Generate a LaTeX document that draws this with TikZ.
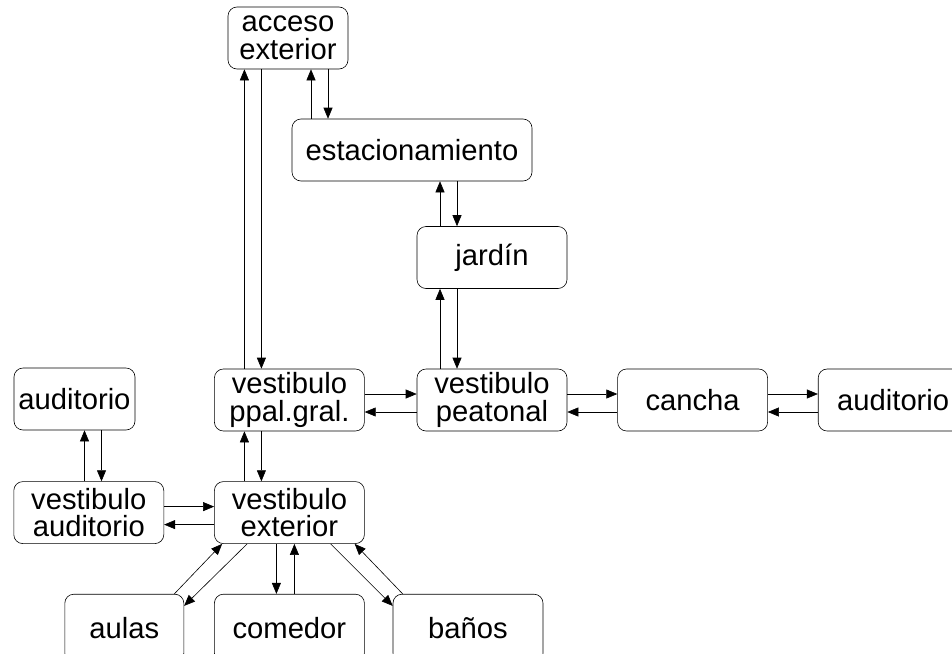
\documentclass[tikz,border=0pt]{standalone}
\usepackage{fontspec}
\setmainfont{Liberation Sans}
\usetikzlibrary{arrows.meta,positioning}

\begin{document}
\begin{tikzpicture}[x=1pt, y=-1pt,
  box/.style={draw, rounded corners=9pt, align=center, minimum width=150pt, minimum height=62pt, inner xsep=4pt, inner ysep=2pt, line width=0.6pt, font=\fontsize{29.2pt}{27.7pt}\selectfont},
  arr/.style={-{Triangle[length=11pt,width=9pt]}, line width=0.6pt}
]
\useasboundingbox (0,0) rectangle (952,653);

\node[box, minimum width=120pt] (acceso) at (288,38) {acceso\\exterior};
\node[box, minimum width=240pt] (estac) at (412,150) {estacionamiento};
\node[box] (jardin) at (492,257.5) {jardín};
\node[box] (peatonal) at (492,400) {vestibulo\\peatonal};
\node[box, left=52pt of peatonal] (ppal) {vestibulo\\ppal.gral.};
\node[box, right=50pt of peatonal] (cancha) {cancha};
\node[box, right=50pt of cancha] (audder) {auditorio};
\node[box, minimum width=121pt] (audizq) at (74.5,399) {auditorio};
\node[box, below=50pt of ppal] (exterior) {vestibulo\\exterior};
\node[box, left=50pt of exterior] (vestaud) {vestibulo\\auditorio};
\node[box, minimum height=68pt, below=50pt of exterior] (comedor) {comedor};
\node[box, minimum height=68pt, minimum width=119pt, left=30pt of comedor] (aulas) {aulas};
\node[box, minimum height=68pt, right=28pt of comedor] (banos) {baños};

\draw[arr] ([xshift=-45pt]ppal.north) -- ([xshift=-45pt]ppal.north |- acceso.south);
\draw[arr] ([xshift=-28pt]ppal.north |- acceso.south) -- ([xshift=-28pt]ppal.north);
\draw[arr] ([xshift=-101pt]estac.north) -- ([xshift=-101pt]estac.north |- acceso.south);
\draw[arr] ([xshift=-84pt]estac.north |- acceso.south) -- ([xshift=-84pt]estac.north);
\draw[arr] ([xshift=-52pt]jardin.north) -- ([xshift=-52pt]jardin.north |- estac.south);
\draw[arr] ([xshift=-35pt]jardin.north |- estac.south) -- ([xshift=-35pt]jardin.north);
\draw[arr] ([xshift=-52pt]peatonal.north) -- ([xshift=-52pt]jardin.south);
\draw[arr] ([xshift=-35pt]jardin.south) -- ([xshift=-35pt]peatonal.north);

\draw[arr] ([yshift=6pt]ppal.east) -- ([yshift=6pt]peatonal.west);
\draw[arr] ([yshift=-12pt]peatonal.west) -- ([yshift=-12pt]ppal.east);
\draw[arr] ([yshift=6pt]peatonal.east) -- ([yshift=6pt]cancha.west);
\draw[arr] ([yshift=-12pt]cancha.west) -- ([yshift=-12pt]peatonal.east);
\draw[arr] ([yshift=6pt]cancha.east) -- ([yshift=6pt]audder.west);
\draw[arr] ([yshift=-12pt]audder.west) -- ([yshift=-12pt]cancha.east);

\draw[arr] ([xshift=-45pt]exterior.north) -- ([xshift=-45pt]ppal.south);
\draw[arr] ([xshift=-28pt]ppal.south) -- ([xshift=-28pt]exterior.north);
\draw[arr] ([xshift=10pt]audizq.south |- vestaud.north) -- ([xshift=10pt]audizq.south);
\draw[arr] ([xshift=27pt]audizq.south) -- ([xshift=27pt]audizq.south |- vestaud.north);
\draw[arr] ([yshift=6pt]vestaud.east) -- ([yshift=6pt]exterior.west);
\draw[arr] ([yshift=-12pt]exterior.west) -- ([yshift=-12pt]vestaud.east);

\draw[arr] ([xshift=50pt]aulas.north) -- ([xshift=8pt]exterior.south west);
\draw[arr] ([xshift=33pt]exterior.south west) -- ([yshift=-12pt]aulas.north east);
\draw[arr] ([xshift=-13pt]exterior.south) -- ([xshift=-13pt]comedor.north);
\draw[arr] ([xshift=5pt]comedor.north) -- ([xshift=5pt]exterior.south);
\draw[arr] ([xshift=-34pt]exterior.south east) -- ([yshift=-12pt]banos.north west);
\draw[arr] ([xshift=10pt]banos.north west) -- ([xshift=-10pt]exterior.south east);

\end{tikzpicture}
\end{document}
